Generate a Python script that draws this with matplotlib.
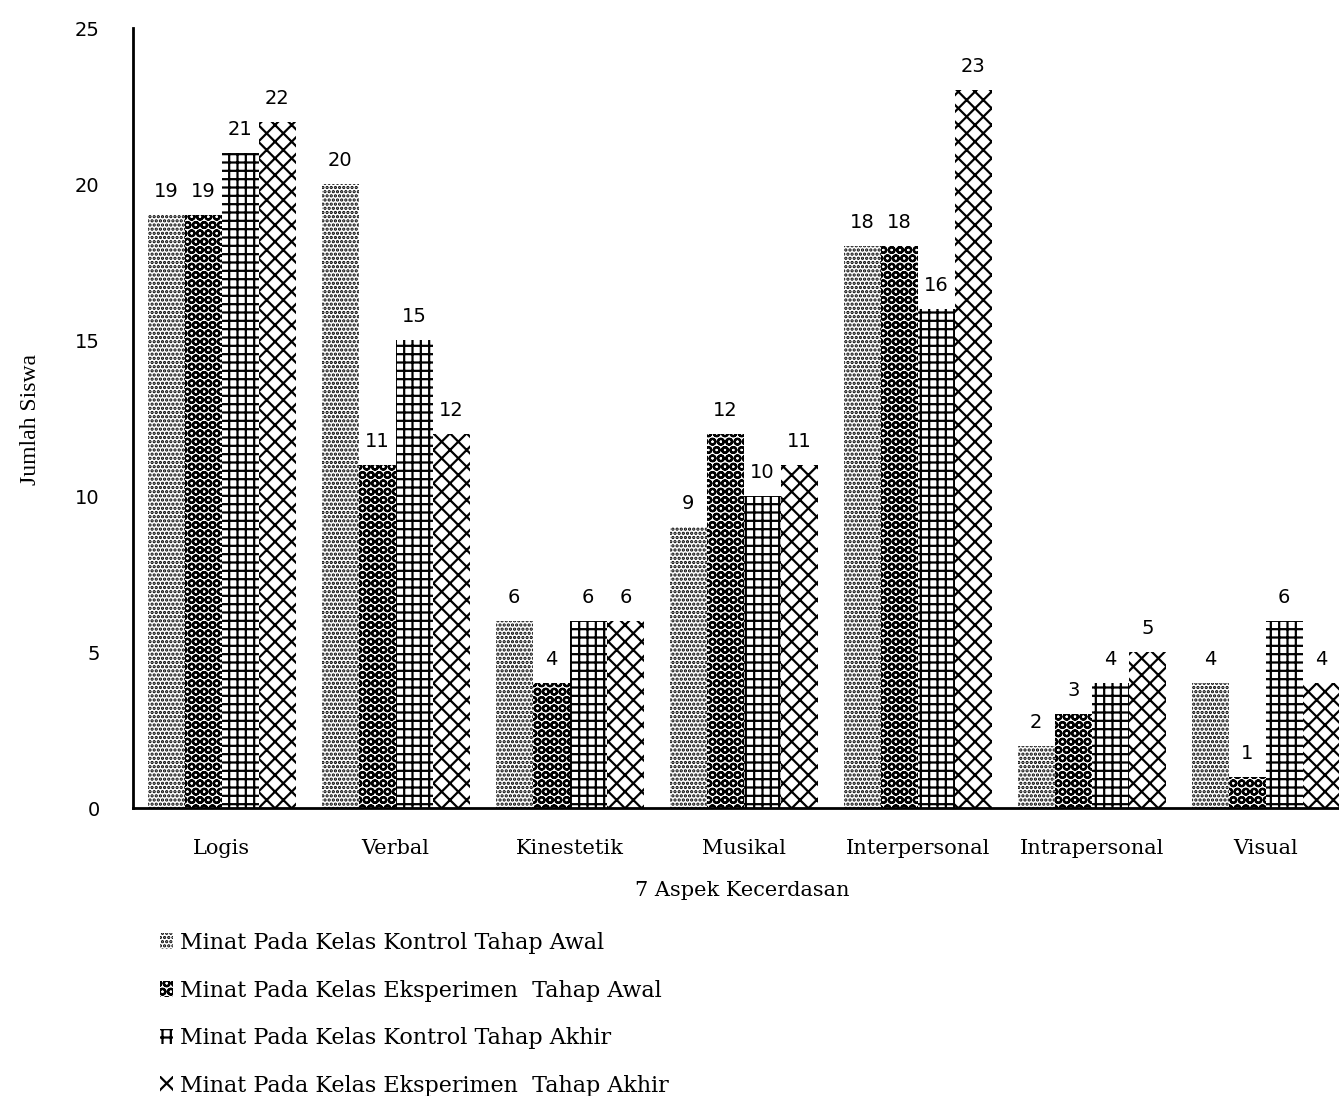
import numpy as np
import matplotlib.pyplot as plt

plt.rcParams['font.family'] = ['DejaVu Serif']
plt.rcParams['hatch.linewidth'] = 1.6

# seven intelligence aspects
aspek = ["Logis", "Verbal", "Kinestetik", "Musikal",
         "Interpersonal", "Intrapersonal", "Visual"]

kontrol_awal = [19, 20, 6, 9, 18, 2, 4]
eksperimen_awal = [19, 11, 4, 12, 18, 3, 1]
kontrol_akhir = [21, 15, 6, 10, 16, 4, 6]
eksperimen_akhir = [22, 12, 6, 11, 23, 5, 4]

series = [
    ("Minat Pada Kelas Kontrol Tahap Awal", kontrol_awal, "...."),
    ("Minat Pada Kelas Eksperimen  Tahap Awal", eksperimen_awal, "OO"),
    ("Minat Pada Kelas Kontrol Tahap Akhir", kontrol_akhir, "++"),
    ("Minat Pada Kelas Eksperimen  Tahap Akhir", eksperimen_akhir, "xx"),
]

num_font = dict(family="DejaVu Sans", size=14)

fig = plt.figure(figsize=(13.39, 10.96), dpi=100)
# axes run slightly past the right edge of the figure
ax = fig.add_axes([133 / 1339, 1 - 808 / 1096, 1218 / 1339, 780 / 1096])

x = np.arange(len(aspek))
w = 0.213
for i, (label, vals, hatch) in enumerate(series):
    pos = x + (i - 1.5) * w
    bars = ax.bar(pos, vals, width=w, color="white", edgecolor="black",
                  linewidth=0, hatch=hatch, label=label)
    for b, v in zip(bars, vals):
        ax.text(b.get_x() + b.get_width() / 2, v + 0.45, str(v),
                ha="center", va="bottom", **num_font)

ax.set_xlim(-0.51, 6.49)
ax.set_ylim(0, 25)
ax.set_yticks([0, 5, 10, 15, 20, 25])
ax.set_xticks(x)
ax.set_xticklabels(aspek, fontsize=15)
ax.tick_params(axis="both", length=0)
ax.tick_params(axis="y", pad=24)
ax.tick_params(axis="x", pad=22)
for t in ax.get_yticklabels():
    t.set_fontfamily("DejaVu Sans")
    t.set_fontsize(14)
for s in ["top", "right"]:
    ax.spines[s].set_visible(False)
ax.spines["left"].set_linewidth(2)
ax.spines["bottom"].set_linewidth(2)

fig.text(30 / 1339, 1 - 420 / 1096, "Jumlah Siswa", rotation=90,
         ha="center", va="center", fontsize=17, family="Liberation Serif")
fig.text(742 / 1339, 1 - 890 / 1096, "7 Aspek Kecerdasan",
         ha="center", va="center", fontsize=15)

fig.legend(loc="upper left", bbox_to_anchor=(140 / 1339, 1 - 912 / 1096),
           frameon=False, prop=dict(family="DejaVu Serif", size=16),
           handlelength=0.6, handleheight=0.7,
           handletextpad=0.3, labelspacing=1.15)

fig.savefig("out.png", dpi=100)
